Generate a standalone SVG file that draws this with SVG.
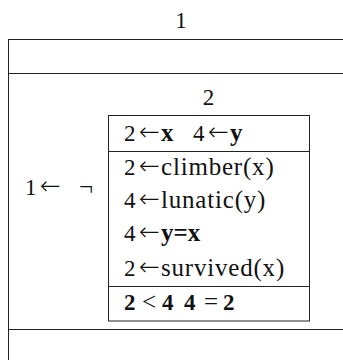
<svg xmlns="http://www.w3.org/2000/svg" width="343" height="360" viewBox="0 0 343 360">
<style>
text{font-family:'Liberation Serif','Times New Roman',serif;font-size:25px;fill:#111}
.d{font-size:23px}
.w{letter-spacing:0.8px}
.b{font-weight:bold}
.ar{font-family:'DejaVu Sans',sans-serif;font-size:25px;font-weight:200}
.ln{stroke:#222;stroke-width:1;fill:none}
</style>
<rect width="343" height="360" fill="#fff"/>
<g id="outer">
<text class="d" x="181" y="28" text-anchor="middle">1</text>
<rect class="ln" x="8.5" y="39.5" width="346" height="340"/>
<line class="ln" x1="8.5" y1="73.5" x2="354" y2="73.5"/>
<line class="ln" x1="8.5" y1="329.5" x2="354" y2="329.5"/>
<text class="d" x="25" y="195">1</text>
<text class="ar" x="40" y="194">←</text>
<text x="79" y="195">¬</text>
</g>
<g id="inner">
<text class="d" x="208.5" y="105" text-anchor="middle">2</text>
<rect class="ln" x="108.5" y="115.5" width="201" height="205.5"/>
<line class="ln" x1="108.5" y1="151.5" x2="309.5" y2="151.5"/>
<line class="ln" x1="108.5" y1="286.5" x2="309.5" y2="286.5"/>
<text class="d" x="124" y="141">2</text><text class="ar" x="139" y="140">←</text><text class="b" x="161" y="141">x</text>
<text class="d" x="193" y="141">4</text><text class="ar" x="208" y="140">←</text><text class="b" x="230" y="141">y</text>
<text class="d" x="124" y="175">2</text><text class="ar" x="139" y="174">←</text><text class="w" x="161" y="175">climber(x)</text>
<text class="d" x="124" y="208">4</text><text class="ar" x="139" y="207">←</text><text class="w" x="161" y="208">lunatic(y)</text>
<text class="d" x="124" y="241">4</text><text class="ar" x="139" y="240">←</text><text class="b" x="161" y="241">y=x</text>
<text class="d" x="124" y="276">2</text><text class="ar" x="139" y="275">←</text><text class="w" x="161" y="276">survived(x)</text>
<text class="b d" x="124" y="310">2</text><text x="142" y="310">&lt;</text><text class="b d" x="162" y="310">4</text>
<text class="b d" x="184" y="310">4</text><text x="204" y="310">=</text><text class="b d" x="223" y="310">2</text>
</g>
<g id="connectors"></g>
</svg>
